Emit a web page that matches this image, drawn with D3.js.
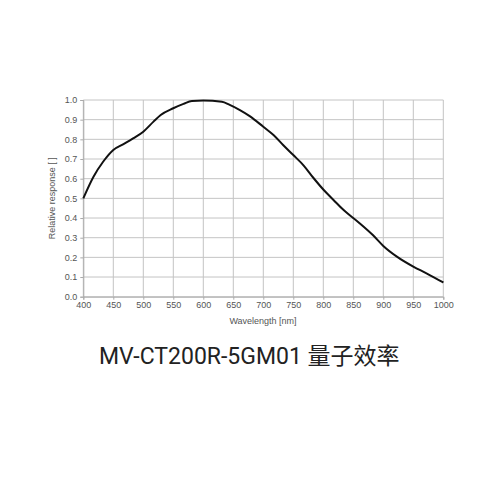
<!DOCTYPE html>
<html><head><meta charset="utf-8">
<script src="https://cdn.jsdelivr.net/npm/d3@7/dist/d3.min.js"></script>
<style>body{margin:0;background:#fff}</style>
</head><body>
<script>
const wavelength = [400,417,433,450,467,483,500,517,529,550,567,581,600,631,644,661,678,700,717,733,750,767,783,800,817,833,858,883,900,922,950,972,1000];
const response   = [0.50,0.61,0.686,0.746,0.776,0.805,0.839,0.89,0.924,0.958,0.98,0.995,0.997,0.991,0.975,0.949,0.917,0.864,0.822,0.771,0.72,0.668,0.606,0.545,0.492,0.443,0.38,0.312,0.258,0.205,0.153,0.119,0.072];
const xTicks = [400,450,500,550,600,650,700,750,800,850,900,950,1000];
const yTicks = [0.0,0.1,0.2,0.3,0.4,0.5,0.6,0.7,0.8,0.9,1.0];
const title = "MV-CT200R-5GM01 量子效率";
const xLabel = "Wavelength [nm]";
const yLabel = "Relative response [ ]";

const W=500,H=500;
const svg=d3.select("body").append("svg").attr("width",W).attr("height",H);
const x=d3.scaleLinear().domain([400,1000]).range([83.3,443.3]);
const y=d3.scaleLinear().domain([0,1]).range([296.7,100]);

const grid=svg.append("g").attr("stroke","#c4c4c4").attr("stroke-width",1);
xTicks.forEach(t=>grid.append("line").attr("x1",x(t)).attr("x2",x(t)).attr("y1",y(0)).attr("y2",y(1)));
yTicks.forEach(t=>grid.append("line").attr("x1",x(400)).attr("x2",x(1000)).attr("y1",y(t)).attr("y2",y(t)));

const xa=svg.append("g").attr("transform",`translate(0,${y(0)})`)
  .call(d3.axisBottom(x).tickValues(xTicks).tickSize(3).tickPadding(2).tickFormat(d3.format("d")));
const ya=svg.append("g").attr("transform",`translate(${x(400)},0)`)
  .call(d3.axisLeft(y).tickValues(yTicks).tickSize(3).tickPadding(3).tickFormat(d3.format(".1f")));
[xa,ya].forEach(a=>{
  a.select(".domain").attr("stroke","#aaa");
  a.selectAll(".tick line").attr("stroke","#aaa");
  a.selectAll("text").attr("fill","#555").style("font-family","Liberation Sans, Arial, sans-serif").style("font-size","9px");
});

const line=d3.line().x((d,i)=>x(wavelength[i])).y(d=>y(d)).curve(d3.curveMonotoneX);
svg.append("path").datum(response).attr("d",line).attr("fill","none").attr("stroke","#111").attr("stroke-width",2);

svg.append("text").attr("x",263).attr("y",324).attr("text-anchor","middle")
  .attr("fill","#555").style("font-family","Liberation Sans, Arial, sans-serif").style("font-size","9px").text(xLabel);
svg.append("text").attr("transform",`translate(55,${y(0.5)}) rotate(-90)`).attr("text-anchor","middle")
  .attr("fill","#555").style("font-family","Liberation Sans, Arial, sans-serif").style("font-size","9px").text(yLabel);

svg.append("text").attr("x",99).attr("y",364).attr("fill","#222")
  .style("font-family","Roboto, 'Noto Sans CJK SC', sans-serif").style("font-size","23px").text(title);
</script>
</body></html>
